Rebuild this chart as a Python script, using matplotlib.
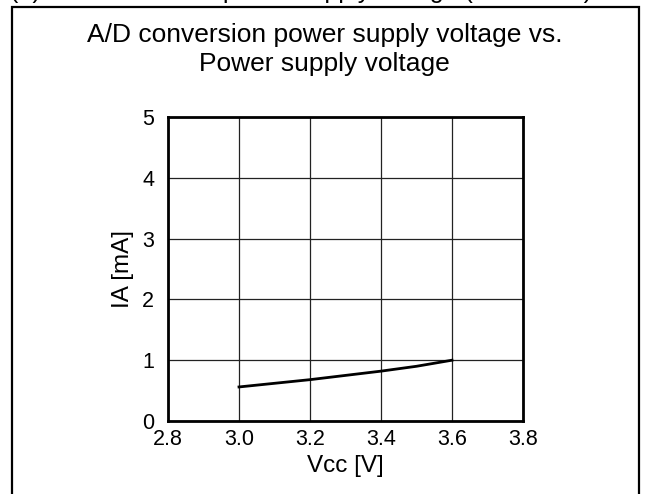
import matplotlib.pyplot as plt
from matplotlib.patches import Rectangle

plt.rcParams['font.family'] = ['Liberation Sans', 'DejaVu Sans']

# Supply voltage [V] and A/D conversion supply current [mA]
vcc = [3.0, 3.1, 3.2, 3.3, 3.4, 3.5, 3.6]
ia = [0.56, 0.62, 0.68, 0.75, 0.82, 0.90, 1.00]

x_ticks = [2.8, 3.0, 3.2, 3.4, 3.6, 3.8]
y_ticks = [0, 1, 2, 3, 4, 5]

fig = plt.figure(figsize=(6.49, 4.94), dpi=100)

# outer frame (open at the bottom, continues past the figure edge)
fig.add_artist(Rectangle((12 / 649, -0.1), 627 / 649, 1.1 - 7 / 494,
                         transform=fig.transFigure, fill=False,
                         edgecolor='black', linewidth=1.6, clip_on=False))

# caption line above the frame, only its lower edge falls inside the figure
fig.text(10 / 649, 1.0 + 2 / 494, '(3) A/D conversion power supply voltage (Ta = 25°C)',
         fontsize=18, ha='left', va='baseline')

fig.text(0.5, 1 - 35 / 494, 'A/D conversion power supply voltage vs.',
         fontsize=19, ha='center', va='center')
fig.text(0.5, 1 - 64 / 494, 'Power supply voltage',
         fontsize=19, ha='center', va='center')

ax = fig.add_axes([168 / 649, 1 - 421 / 494, 355 / 649, 304 / 494])
ax.plot(vcc, ia, color='black', linewidth=2)

ax.set_xlim(2.8, 3.8)
ax.set_ylim(0, 5)
ax.set_xticks(x_ticks)
ax.set_yticks(y_ticks)
ax.set_xticklabels([f'{v:.1f}' for v in x_ticks])
ax.set_yticklabels([str(v) for v in y_ticks])
ax.tick_params(length=0, labelsize=15.5)
ax.tick_params(axis='x', pad=6)
ax.tick_params(axis='y', pad=10)
ax.grid(True, color='#222222', linewidth=0.9)
for s in ax.spines.values():
    s.set_linewidth(2)

ax.set_xlabel('Vcc [V]', fontsize=17.5, labelpad=3)
ax.set_ylabel('IA [mA]', fontsize=17.5, labelpad=6)

plt.savefig('out.png', dpi=100)
